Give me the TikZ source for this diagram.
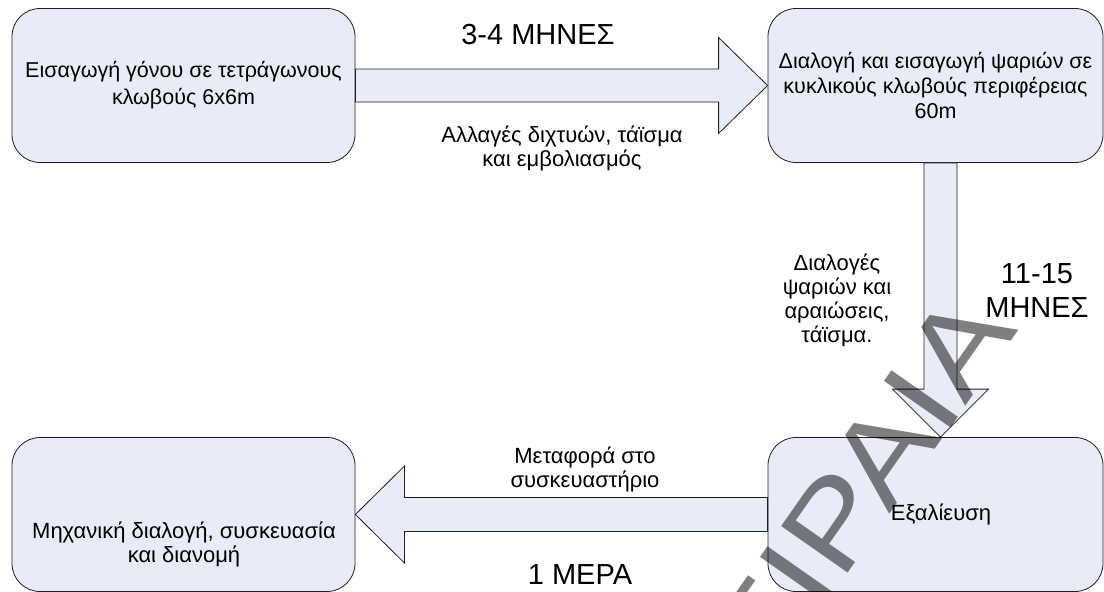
\documentclass[tikz,border=0pt]{standalone}
\usepackage{fontspec}
\setmainfont{Liberation Sans}
\usetikzlibrary{calc}
\definecolor{boxblue}{RGB}{232,236,248}
\definecolor{edgegray}{RGB}{30,30,30}

\begin{document}
\begin{tikzpicture}[x=1pt,y=-1pt,
    stage/.style={draw=edgegray, line width=0.8pt, fill=boxblue, rounded corners=28pt,
        minimum width=343pt, minimum height=154pt, align=center, inner sep=0pt,
        font=\fontsize{21.5}{25}\selectfont},
    note/.style={align=center, inner sep=0pt, font=\fontsize{22}{24}\selectfont},
    period/.style={align=center, inner sep=0pt, font=\fontsize{29}{34}\selectfont},
    flow/.style={draw=edgegray, line width=0.8pt, fill=boxblue, line join=miter}]
    \useasboundingbox (0,0) rectangle (1104,592);

    % Stages
    \node[stage, font=\fontsize{21.5}{27}\selectfont] (seed) at (183.5,85.5) {Εισαγωγή γόνου σε τετράγωνους\\κλωβούς 6x6m};
    \node[stage, minimum width=335pt] (cage) at (935.5,85.5) {Διαλογή και εισαγωγή ψαριών σε\\κυκλικούς κλωβούς περιφέρειας\\60m};
    \node[stage, minimum width=335pt] (harvest) at (935.5,514.5) {};
    \node[note] (harvesttext) at (941,514) {Εξαλίευση};
    \node[stage] (pack) at (183.5,514.5) {};
    \node[note] (packtext) at (184,544) {Μηχανική διαλογή, συσκευασία\\και διανομή};

    % Flows between stages
    \draw[flow] ($(seed.east)+(0,-16.5)$) -- ($(cage.west)+(-49,-16.5)$) -- ($(cage.west)+(-49,-48)$)
        -- (cage.west) -- ($(cage.west)+(-49,48)$) -- ($(cage.west)+(-49,16.5)$) -- ($(seed.east)+(0,16.5)$) -- cycle;
    \coordinate (drop) at ($(cage.south)+(5,0)$);
    \coordinate (land) at ($(harvest.north)+(5,0)$);
    \draw[flow] ($(drop)+(-16.5,0)$) -- ($(land)+(-16.5,-48)$) -- ($(land)+(-48,-48)$)
        -- (land) -- ($(land)+(48,-48)$) -- ($(land)+(16.5,-48)$) -- ($(drop)+(16.5,0)$) -- cycle;
    \draw[flow] ($(harvest.west)+(0,-17)$) -- ($(pack.east)+(49,-17)$) -- ($(pack.east)+(49,-48.5)$)
        -- (pack.east) -- ($(pack.east)+(49,48.5)$) -- ($(pack.east)+(49,17)$) -- ($(harvest.west)+(0,17)$) -- cycle;

    % Labels
    \node[period] (months1) at (538,34.5) {3-4 ΜΗΝΕΣ};
    \node[note] (nets) at (562,148.5) {Αλλαγές διχτυών, τάϊσμα\\και εμβολιασμός};
    \node[note] (sorting) at (837,300) {Διαλογές\\ψαριών και\\αραιώσεις,\\τάϊσμα.};
    \node[period] (months2) at (1037,291) {11-15\\ΜΗΝΕΣ};
    \node[note] (transfer) at (585,469) {Μεταφορά στο\\συσκευαστήριο};
    \node[period] (day) at (580,575) {1 ΜΕΡΑ};

    % Watermark
    \begin{scope}
        \clip (0,0) rectangle (1104,592);
        \node[rotate=55, xscale=1.186, anchor=base west, inner sep=0pt, text=black, text opacity=0.5,
            font=\fontsize{118}{118}\selectfont] (mark) at (708,774) {ΠΕΙΡΑΙΑ};
    \end{scope}
\end{tikzpicture}
\end{document}
